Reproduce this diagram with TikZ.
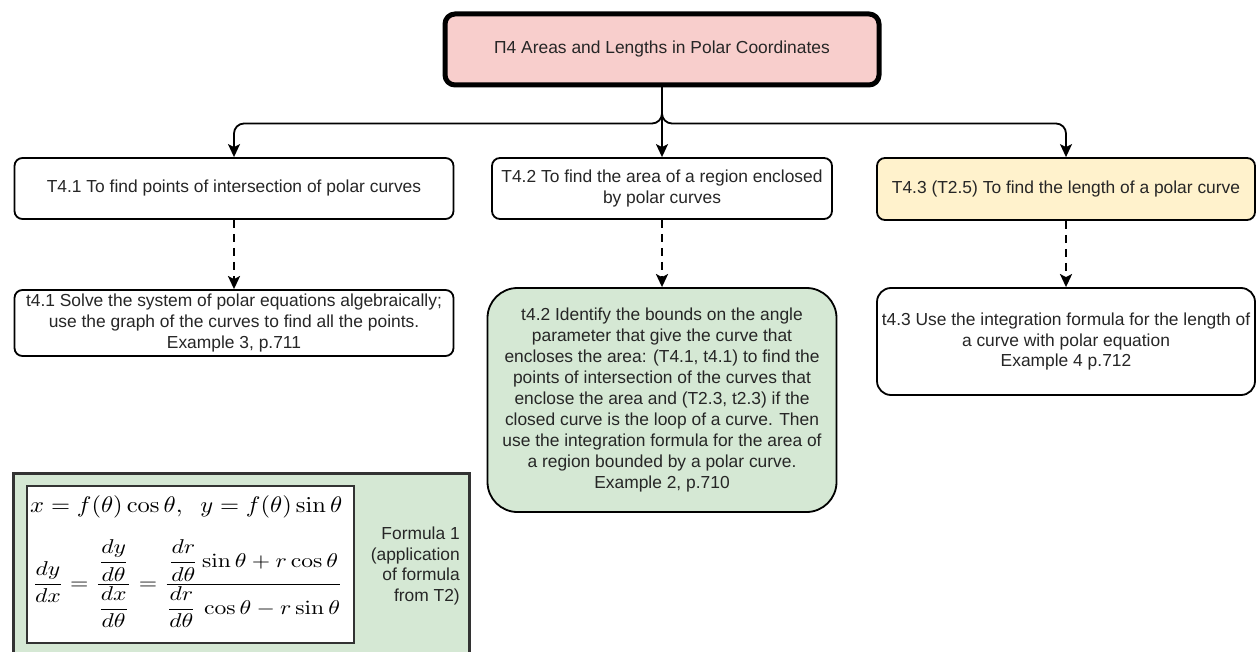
\documentclass[tikz,border=0pt]{standalone}
\usepackage{amsmath}
\usepackage[no-math]{fontspec}
\setmainfont{Liberation Sans}
\usetikzlibrary{arrows.meta}
\definecolor{txt}{HTML}{262626}
\definecolor{pinkfill}{HTML}{F8CECC}
\definecolor{yellowfill}{HTML}{FFF2CC}
\definecolor{greenfill}{HTML}{D5E8D4}
\definecolor{frameline}{HTML}{333333}
\begin{document}
\begin{tikzpicture}[x=1pt,y=-1pt,
  every node/.style={text=txt, font=\fontsize{17.4}{20.9}\selectfont},
  box/.style={draw=black, line width=1.8pt, rounded corners=8pt, align=center,
    inner sep=0pt, fill=white},
  flow/.style={line width=1.8pt, -{Stealth[length=13pt,width=12pt,inset=3pt]}},
  dflow/.style={flow, line width=2.4pt, dash pattern=on 8pt off 6pt},
  mathline/.style={anchor=west, inner sep=0pt, text=black, font=\normalsize},
]
\useasboundingbox (0,0) rectangle (1257,652);

% heading
\node[box, line width=5pt, rounded corners=10pt, fill=pinkfill,
  minimum width=434pt, minimum height=71pt] (title) at (662,49.5)
  {П4 Areas and Lengths in Polar Coordinates};

% topics
\node[box, minimum width=439pt, minimum height=61pt] (T41) at (234,188.5)
  {T4.1 To find points of intersection of polar curves};
\node[box, minimum width=340pt, minimum height=61pt] (T42) at (662,188.5)
  {T4.2 To find the area of a region enclosed\\by polar curves};
\node[box, fill=yellowfill, minimum width=378pt, minimum height=62pt] (T43) at (1066,189)
  {T4.3 (T2.5) To find the length of a polar curve};

% methods
\node[box, minimum width=439pt, minimum height=66pt] (t41) at (234,323)
  {t4.1 Solve the system of polar equations algebraically;\\
   use the graph of the curves to find all the points.\\
   Example 3, p.711};
\node[box, fill=greenfill, rounded corners=30pt, minimum width=349pt, minimum height=224pt] (t42) at (662,400)
  {t4.2 Identify the bounds on the angle\\
   parameter that give the curve that\\
   encloses the area: (T4.1, t4.1) to find the\\
   points of intersection of the curves that\\
   enclose the area and (T2.3, t2.3) if the\\
   closed curve is the loop of a curve. Then\\
   use the integration formula for the area of\\
   a region bounded by a polar curve.\\
   Example 2, p.710};
\node[box, rounded corners=14pt, minimum width=378pt, minimum height=107pt] (t43) at (1066,341.5)
  {t4.3 Use the integration formula for the length of\\
   a curve with polar equation\\
   Example 4 p.712};

% connectors
\draw[flow, rounded corners=10pt] (title.south) -- ++(0,36) -| (T41.north);
\draw[flow, rounded corners=10pt] (title.south) -- ++(0,36) -| (T43.north);
\draw[flow] (title.south) -- (T42.north);
\draw[dflow] (T41.south) -- (t41.north);
\draw[dflow] (T42.south) -- (t42.north);
\draw[dflow] (T43.south) -- (t43.north);

% formula panel
\node[draw=frameline, line width=2.5pt, fill=greenfill, inner sep=0pt,
  minimum width=456pt, minimum height=200pt, anchor=north west] (panel) at (12,472) {};
\node[draw=frameline, line width=1.5pt, fill=white, inner sep=0pt,
  minimum width=327pt, minimum height=157pt, anchor=north west] (fbox) at (26,485) {};
\node[mathline] (fline1) at ([xshift=4pt,yshift=-22pt]fbox.north west)
  {\scalebox{2.45}[2.25]{$x = f(\theta)\cos\theta,\ \ y = f(\theta)\sin\theta$}};
\node[mathline] (fline2) at ([xshift=6pt,yshift=-99pt]fbox.north west)
  {\scalebox{2.36}[2.0]{$\displaystyle \frac{dy}{dx} = \frac{\dfrac{dy}{d\theta}}{\dfrac{dx}{d\theta}}
     = \frac{\dfrac{dr}{d\theta}\sin\theta + r\cos\theta}{\dfrac{dr}{d\theta}\,\cos\theta - r\sin\theta}$}};
\node[anchor=east, align=right, inner sep=0pt] (flabel) at (460,566)
  {Formula 1\\(application\\of formula\\from T2)};
\end{tikzpicture}
\end{document}
